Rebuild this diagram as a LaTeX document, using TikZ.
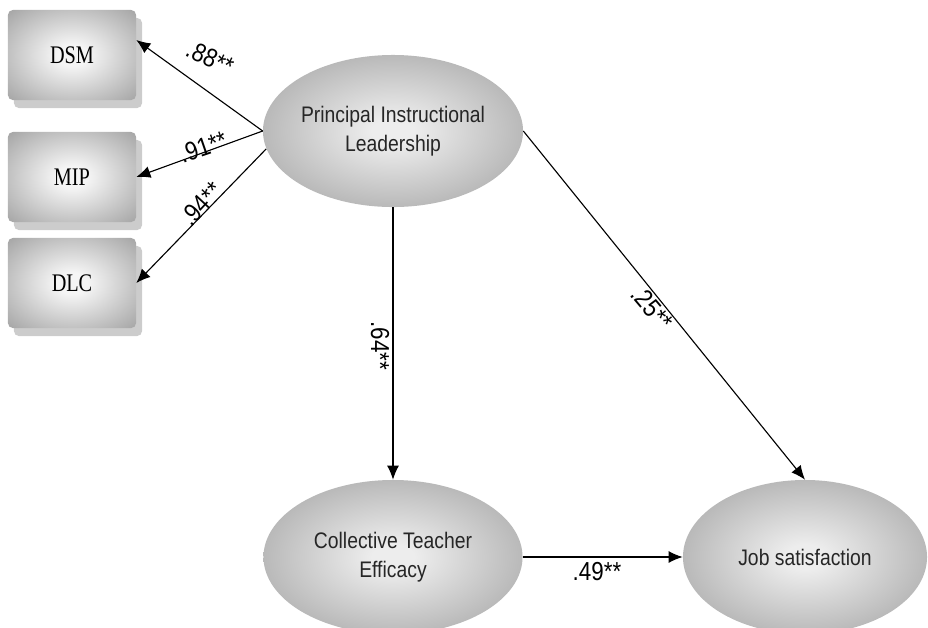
\documentclass[tikz,border=0pt]{standalone}
\usepackage{fontspec}
\setmainfont{Liberation Serif}
\newfontfamily\narrowsans[FakeStretch=0.86]{Liberation Sans}
\newfontfamily\narrowserif[FakeStretch=0.8]{Liberation Serif}
\usetikzlibrary{shapes.geometric, arrows.meta, shadows}

\definecolor{ovalin}{gray}{0.93}
\definecolor{ovalout}{gray}{0.58}
\definecolor{boxin}{gray}{0.96}
\definecolor{boxout}{gray}{0.64}
\definecolor{boxshadow}{gray}{0.8}
\pgfdeclareradialshading{ovalshade}{\pgfpoint{0bp}{0bp}}{color(0bp)=(ovalin); color(4bp)=(ovalin); color(40bp)=(ovalout); color(72bp)=(ovalout)}
\pgfdeclareradialshading{boxshade}{\pgfpoint{0bp}{0bp}}{color(0bp)=(boxin); color(6bp)=(boxin); color(36bp)=(boxout); color(72bp)=(boxout)}

\tikzset{
  measure/.style={rectangle, rounded corners=0.12cm, minimum width=3.2cm, minimum height=2.25cm,
    shading=boxshade, copy shadow={shadow xshift=0.15cm, shadow yshift=-0.2cm, fill=boxshadow, draw=none},
    font=\narrowserif\fontsize{18}{20}\selectfont},
  latent/.style={ellipse, shading=ovalshade, inner sep=0pt, align=center, text=black!85,
    font=\narrowsans\fontsize{16}{20.5}\selectfont},
  effect/.style={-{Latex[length=10pt,width=8.5pt]}, line width=0.8pt},
  coef/.style={font=\narrowsans\fontsize{18.5}{20}\selectfont, inner sep=0pt}
}

\begin{document}
\begin{tikzpicture}[x=0.025cm, y=-0.025cm]
  \useasboundingbox (0,0) rectangle (928,627);
  \clip (0,0) rectangle (928,627);

  % Indikatoren (Boxen)
  \node[measure] (dsm) at (72,55) {DSM};
  \node[measure] (mip) at (72,177) {MIP};
  \node[measure] (dlc) at (72,283) {DLC};

  % latente Variablen
  \node[latent, minimum width=6.425cm, minimum height=3.8cm] (pil) at (393,131) {Principal Instructional\\Leadership};
  \node[latent, minimum width=6.475cm, minimum height=3.85cm] (cte) at (393,557) {Collective Teacher\\Efficacy};
  \node[latent, minimum width=6.1cm, minimum height=3.85cm] (js) at (805,557) {Job satisfaction};

  % Pfeile
  \draw[effect] (pil.west) -- ([yshift=0.375cm]dsm.east);
  \draw[effect] (pil.west) -- (mip.east);
  \draw[effect] (pil.188) -- (dlc.east);
  \draw[effect] (pil.south) -- (cte.north);
  \draw[effect] (pil.east) -- (js.north);
  \draw[effect] (cte.east) -- (js.west);

  % Koeffizienten
  \node[coef, rotate=-25] (c88) at (210,58) {.88**};
  \node[coef, rotate=19] (c91) at (203,147) {.91**};
  \node[coef, rotate=47] (c94) at (201,204) {.94**};
  \node[coef, rotate=-90] (c64) at (380,346) {.64**};
  \node[coef, rotate=-50] (c25) at (652,308) {.25**};
  \node[coef] (c49) at (597,572) {.49**};

\end{tikzpicture}
\end{document}
